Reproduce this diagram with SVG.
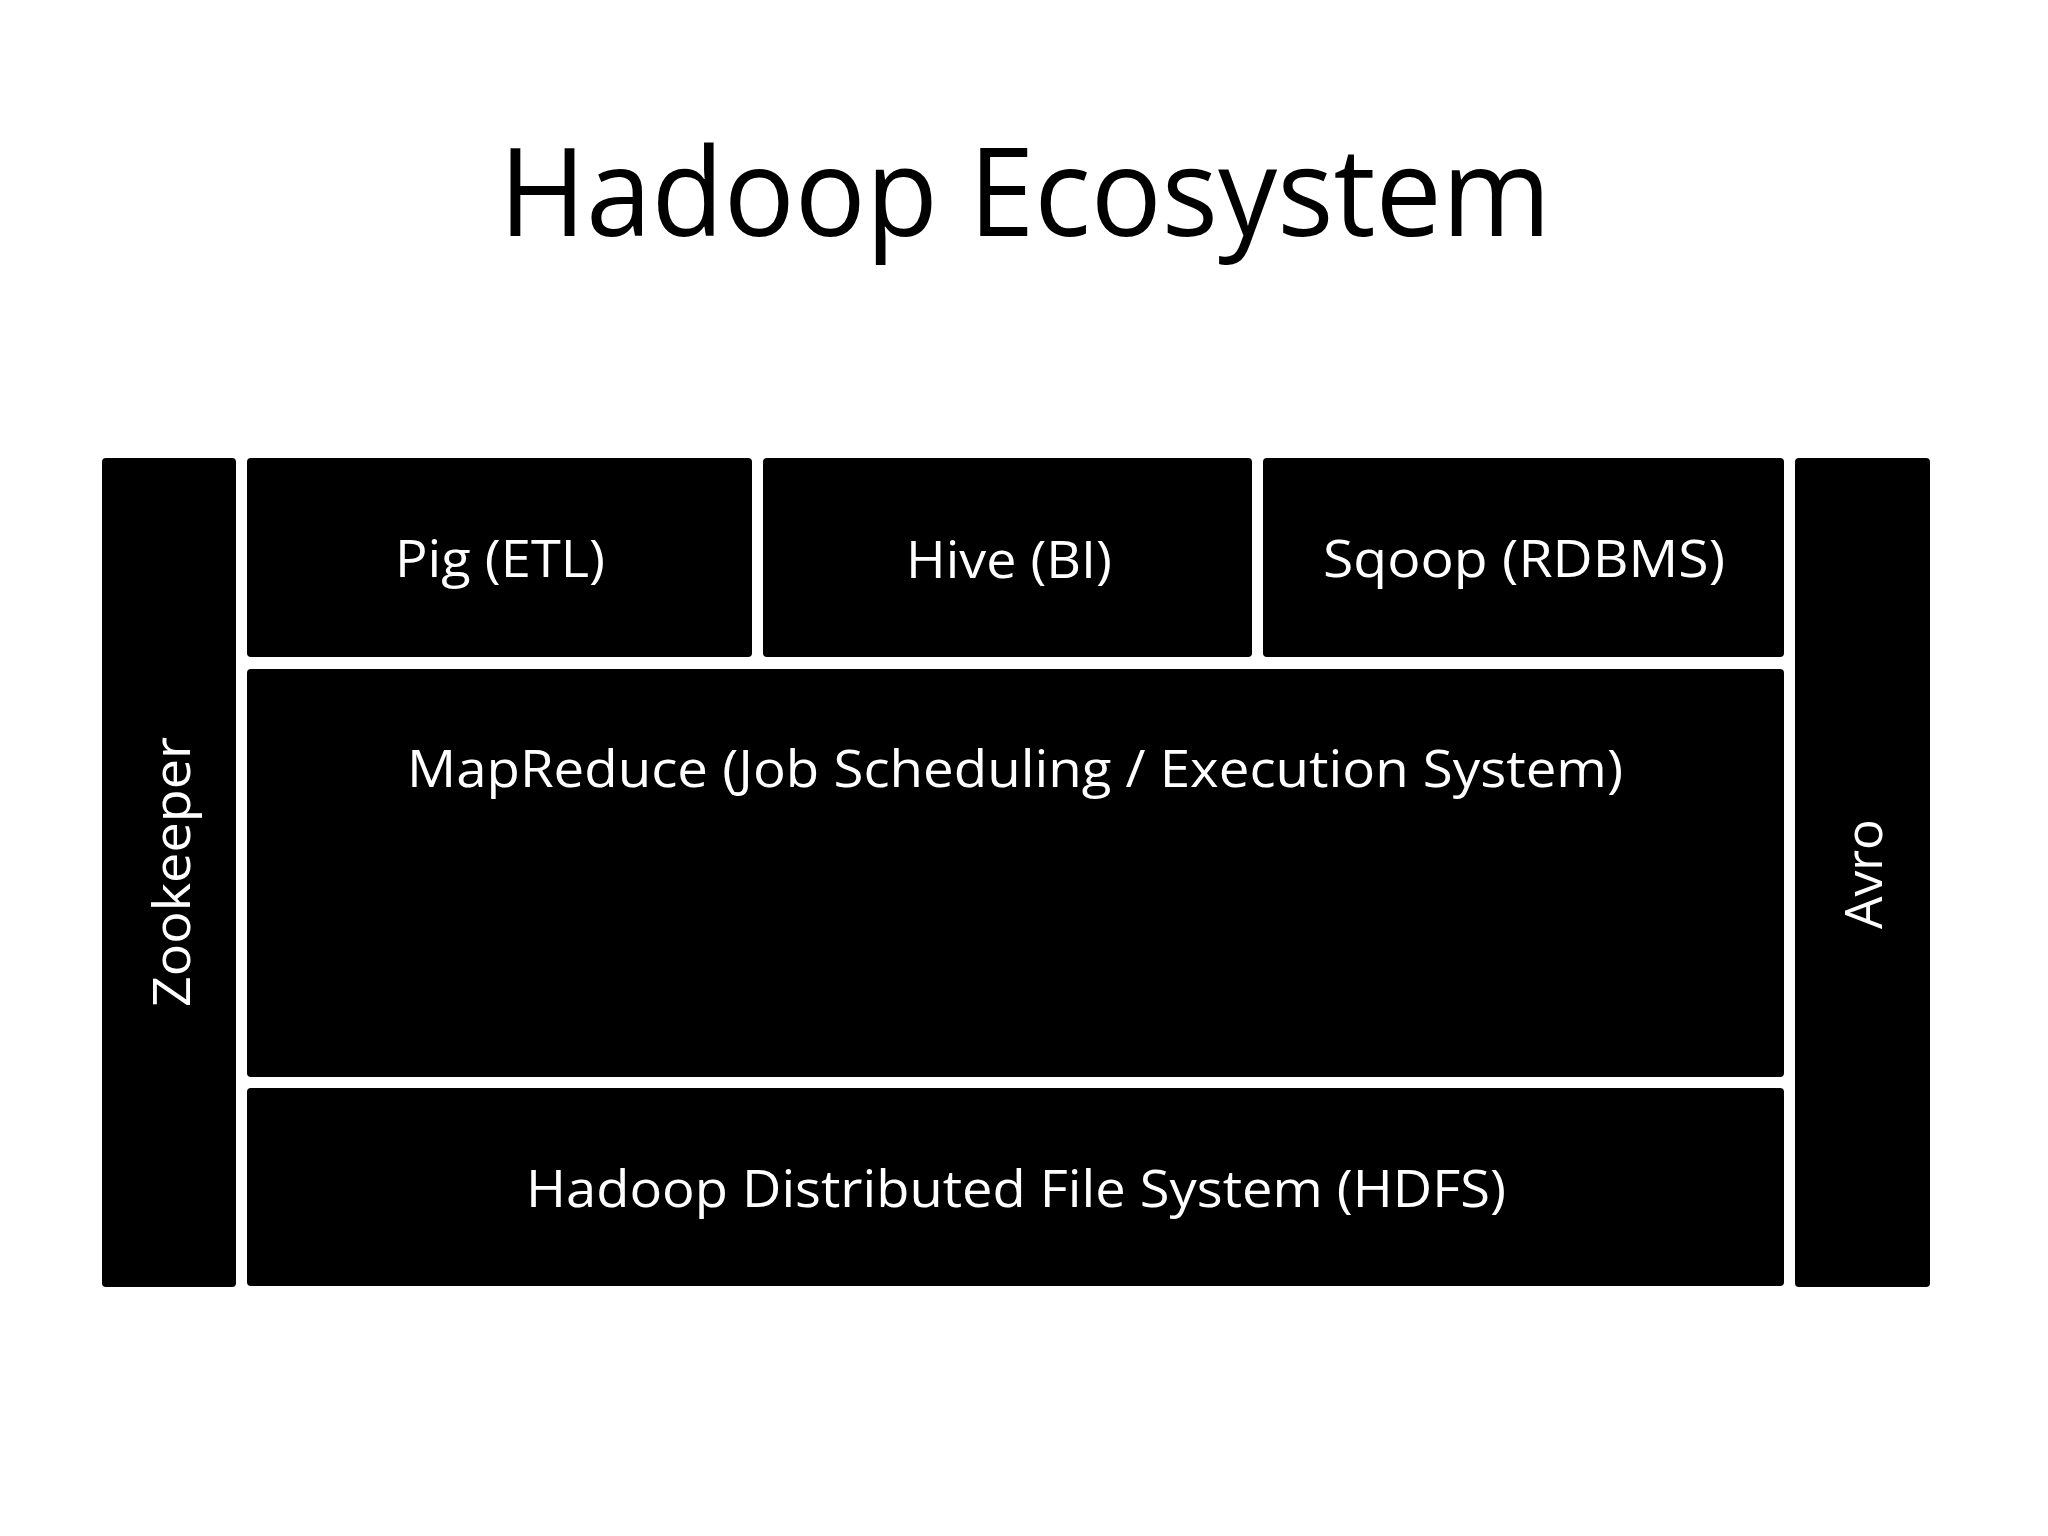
<svg xmlns="http://www.w3.org/2000/svg" width="2048" height="1536" viewBox="0 0 2048 1536">
  <style>
    .box { fill: #000000; }
    .lbl { font-family: "Open Sans", "Noto Sans", "Liberation Sans", sans-serif; font-size: 52px; fill: #ffffff; text-anchor: middle; }
    .title { font-family: "Open Sans", "Noto Sans", "Liberation Sans", sans-serif; font-size: 123px; fill: #000000; text-anchor: middle; }
  </style>
  <rect width="2048" height="1536" fill="#ffffff"/>
  <text class="title" x="1025" y="236" textLength="1052" lengthAdjust="spacingAndGlyphs">Hadoop Ecosystem</text>
  <g id="connectors"></g>
  <g id="zookeeper">
    <rect class="box" x="102" y="458" width="134" height="829" rx="4"/>
    <text class="lbl" transform="translate(190,872) rotate(-90)" x="0" y="0" textLength="270" lengthAdjust="spacingAndGlyphs">Zookeeper</text>
  </g>
  <g id="pig">
    <rect class="box" x="247" y="458" width="505" height="199" rx="4"/>
    <text class="lbl" x="500" y="577" textLength="210" lengthAdjust="spacingAndGlyphs">Pig (ETL)</text>
  </g>
  <g id="hive">
    <rect class="box" x="763" y="458" width="489" height="199" rx="4"/>
    <text class="lbl" x="1009" y="578" textLength="206" lengthAdjust="spacingAndGlyphs">Hive (BI)</text>
  </g>
  <g id="sqoop">
    <rect class="box" x="1263" y="458" width="521" height="199" rx="4"/>
    <text class="lbl" x="1524" y="577" textLength="402" lengthAdjust="spacingAndGlyphs">Sqoop (RDBMS)</text>
  </g>
  <g id="avro">
    <rect class="box" x="1795" y="458" width="135" height="829" rx="4"/>
    <text class="lbl" transform="translate(1882,874) rotate(-90)" x="0" y="0" textLength="110" lengthAdjust="spacingAndGlyphs">Avro</text>
  </g>
  <g id="mapreduce">
    <rect class="box" x="247" y="669" width="1537" height="408" rx="4"/>
    <text class="lbl" x="1015" y="787" textLength="1216" lengthAdjust="spacingAndGlyphs">MapReduce (Job Scheduling / Execution System)</text>
  </g>
  <g id="hdfs">
    <rect class="box" x="247" y="1088" width="1537" height="198" rx="4"/>
    <text class="lbl" x="1016" y="1207" textLength="980" lengthAdjust="spacingAndGlyphs">Hadoop Distributed File System (HDFS)</text>
  </g>
</svg>
